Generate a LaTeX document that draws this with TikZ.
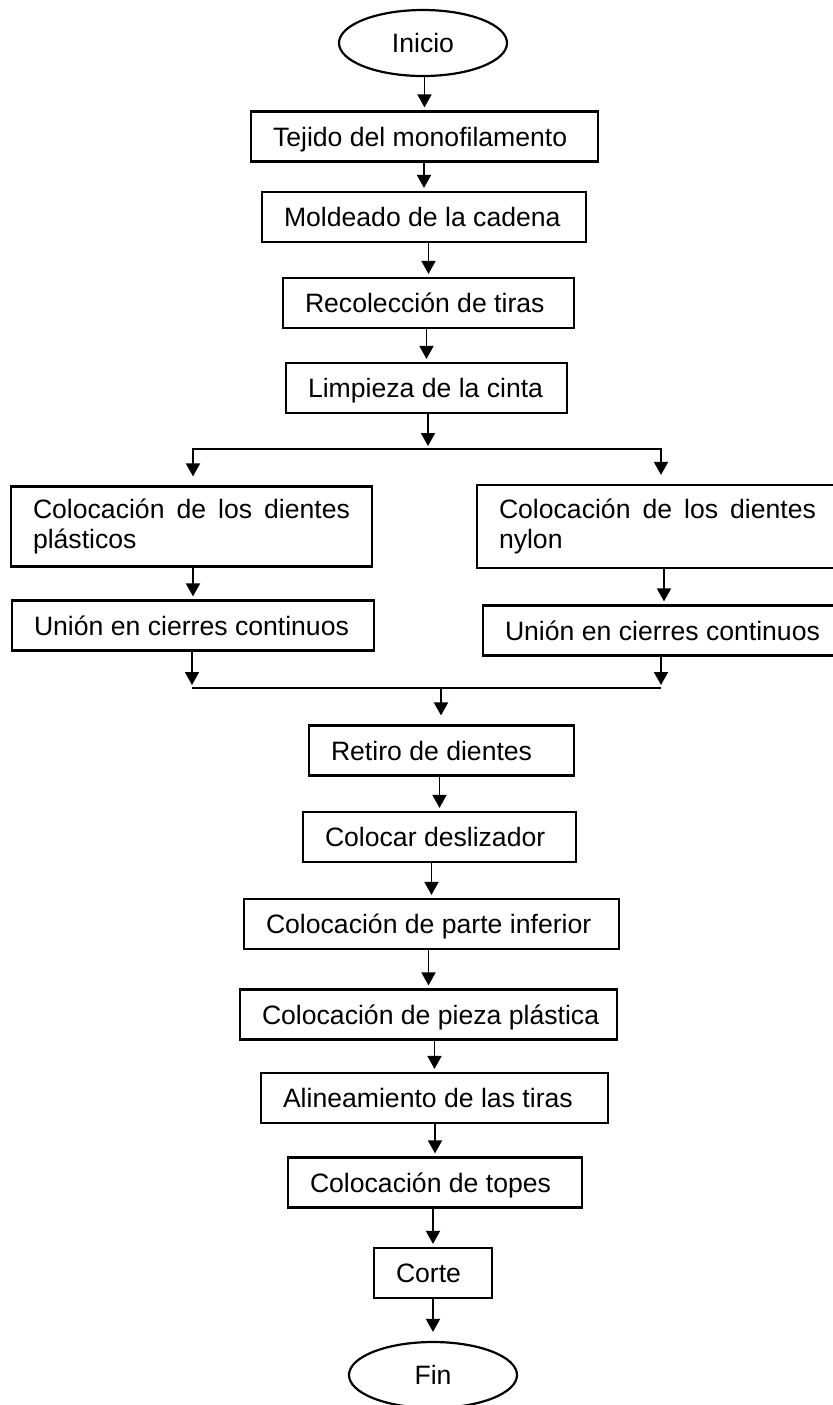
\documentclass[tikz,border=0pt]{standalone}
\usepackage{fontspec}
\setmainfont{Liberation Sans}
\usetikzlibrary{arrows.meta,positioning,calc,shapes.geometric}

\newcommand{\izq}[2]{\makebox[#1][l]{#2}}

\begin{document}
\begin{tikzpicture}[x=0.5pt,y=-0.5pt,
    paso/.style={draw, line width=1.1pt, minimum height=25pt, inner xsep=11pt, inner ysep=0pt,
      text height=9.5pt, text depth=0pt, font=\fontsize{13.3}{15}\selectfont},
    doble/.style={draw, line width=1.1pt, text width=158.5pt, align=justify,
      inner xsep=11pt, inner ysep=0pt, font=\fontsize{13.3}{15}\selectfont},
    extremo/.style={draw, line width=1.1pt, ellipse, minimum width=84pt, minimum height=33pt,
      inner sep=0pt, text height=9.5pt, text depth=0pt, font=\fontsize{13.3}{15}\selectfont},
    flecha/.style={line width=0.9pt, -{Triangle[length=6.5pt,width=7pt]}, shorten >=1.5pt},
    linea/.style={line width=0.9pt}]

  % page frame (right column runs off the page)
  \useasboundingbox (0,0) rectangle (833,1405);
  \clip (0,0) rectangle (833,1405);

  % upper chain
  \node[extremo] (inicio) at (423,43) {Inicio};
  \node[paso] (tejido) at (424.5,136.5) {\izq{151.5pt}{Tejido del monofilamento}};
  \node[paso] (moldeado) at (424,217) {\izq{140pt}{Moldeado de la cadena}};
  \node[paso] (recoleccion) at (428.5,303) {\izq{123.5pt}{Recolección de tiras}};
  \node[paso] (limpieza) at (426.5,388) {\izq{118.5pt}{Limpieza de la cinta}};

  % two branches
  \node[doble, minimum height=40pt] (plasticos) at (191.5,526.5)
    {Colocación de los dientes plásticos};
  \node[paso] (unionI) at (193,625.5) {\izq{159pt}{Unión en cierres continuos}};
  \node[doble, minimum height=41.5pt] (nylon) at (657.5,526.5)
    {Colocación de los dientes nylon};
  \node[paso] (unionD) at (664,630.5) {\izq{159pt}{Unión en cierres continuos}};

  % lower chain
  \node[paso] (retiro) at (441.5,750.5) {\izq{110.5pt}{Retiro de dientes}};
  \node[paso] (deslizador) at (439.5,837) {\izq{114.5pt}{Colocar deslizador}};
  \node[paso] (inferior) at (431.5,924) {\izq{165.5pt}{Colocación de parte inferior}};
  \node[paso] (pieza) at (428.5,1014.5) {\izq{166.5pt}{Colocación de pieza plástica}};
  \node[paso] (alineamiento) at (434.5,1098) {\izq{151.5pt}{Alineamiento de las tiras}};
  \node[paso] (topes) at (435,1182.5) {\izq{125pt}{Colocación de topes}};
  \node[paso] (corte) at (433,1273) {\izq{37pt}{Corte}};
  \node[extremo] (fin) at (433,1375) {Fin};

  % split and merge points
  \coordinate (split) at (428,449);
  \coordinate (ramaI) at (193,449);
  \coordinate (ramaD) at (661,449);
  \coordinate (juntaI) at (192,688);
  \coordinate (juntaD) at (661,688);
  \coordinate (junta) at (441,688);

  % arrows
  \foreach \a/\b in {inicio/tejido, tejido/moldeado, moldeado/recoleccion,
      recoleccion/limpieza, plasticos/unionI, nylon/unionD,
      retiro/deslizador, deslizador/inferior, inferior/pieza,
      pieza/alineamiento, alineamiento/topes, topes/corte}
    \draw[flecha] (\a.south -| \b.north) -- (\b.north);
  \draw[flecha, shorten >=4.5pt] (corte.south -| fin.north) -- (fin.north);

  \draw[flecha] (limpieza.south -| split) -- (split);
  \draw[flecha, shorten >=4.5pt] (split) -- (ramaI) -- (ramaI |- plasticos.north);
  \draw[flecha, shorten >=4.5pt] (split) -- (ramaD) -- (ramaD |- nylon.north);

  \draw[flecha] (unionI.south -| juntaI) -- (juntaI);
  \draw[flecha] (unionD.south -| juntaD) -- (juntaD);
  \draw[linea] (juntaI) -- (juntaD);
  \draw[flecha, shorten >=4.5pt] (junta) -- (junta |- retiro.north);
\end{tikzpicture}
\end{document}
